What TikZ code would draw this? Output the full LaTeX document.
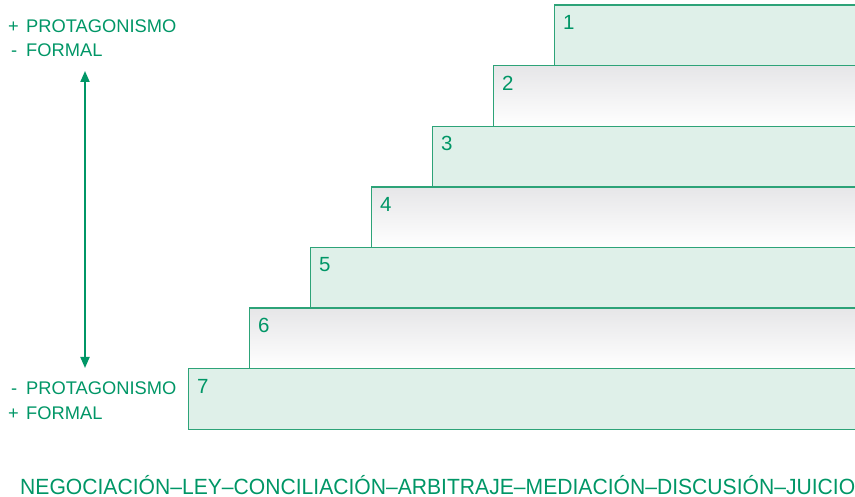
\documentclass[tikz,border=0pt]{standalone}
\usepackage{fontspec}
\setmainfont{Liberation Sans}
\usepackage{graphicx}
\usetikzlibrary{arrows.meta}

\definecolor{stepgreen}{RGB}{0,150,102}
\definecolor{stepline}{RGB}{45,163,120}
\definecolor{stepfill}{RGB}{223,240,233}
\definecolor{stepgray}{RGB}{230,230,232}

\begin{document}
\begin{tikzpicture}[x=1pt,y=-1pt]
			\tikzset{greenstep/.style={draw=stepline,line width=1.4pt,fill=stepfill,anchor=north west,inner sep=0pt},
				graystep/.style={draw=stepline,line width=1.4pt,top color=stepgray,bottom color=white,anchor=north west,inner sep=0pt},
				stepnum/.style={text=stepgreen,font=\fontsize{20.5}{24}\selectfont,anchor=base west,inner sep=0pt},
				sidetext/.style={text=stepgreen,font=\fontsize{18.3}{24}\selectfont,anchor=base west,inner sep=0pt}}
			\useasboundingbox (0,0) rectangle (855,497);
			% escalones, del 1 (arriba) al 7 (abajo)
			\foreach \i in {1,...,7}{
				\pgfmathsetmacro{\sx}{554-61*(\i-1)}
				\pgfmathsetmacro{\sy}{4.5+60.6*(\i-1)}
				\pgfmathsetmacro{\sw}{858-\sx}
				\ifodd\i
					\node[greenstep,minimum width=\sw pt,minimum height=60.6pt] (s\i) at (\sx,\sy) {};
				\else
					\node[graystep,minimum width=\sw pt,minimum height=60.6pt] (s\i) at (\sx,\sy) {};
				\fi
				\node[stepnum] (n\i) at ([xshift=9pt,yshift=-25pt]s\i.north west) {\i};
			}
			% textos laterales
			\node[sidetext] (masprot) at (8,33) {\makebox[18pt][l]{+}PROTAGONISMO};
			\node[sidetext] (menosform) at (8,57) {\makebox[18pt][l]{\,-}FORMAL};
			\node[sidetext] (menosprot) at (8,395) {\makebox[18pt][l]{\,-}PROTAGONISMO};
			\node[sidetext] (masform) at (8,419) {\makebox[18pt][l]{+}FORMAL};
			\coordinate (ftop) at (85,71);
			\coordinate (fbot) at (85,368);
			\draw[stepgreen,line width=2pt,{Triangle[length=11pt,width=9pt]}-{Triangle[length=11pt,width=9pt]}] (ftop) -- (fbot);
			% escala inferior
			\node[text=stepgreen,font=\fontsize{22}{24}\selectfont,anchor=base west,inner sep=0pt] (escala) at (20,494)
				{\resizebox{835pt}{\height}{NEGOCIACIÓN–LEY–CONCILIACIÓN–ARBITRAJE–MEDIACIÓN–DISCUSIÓN–JUICIO}};
		\end{tikzpicture}
\end{document}
